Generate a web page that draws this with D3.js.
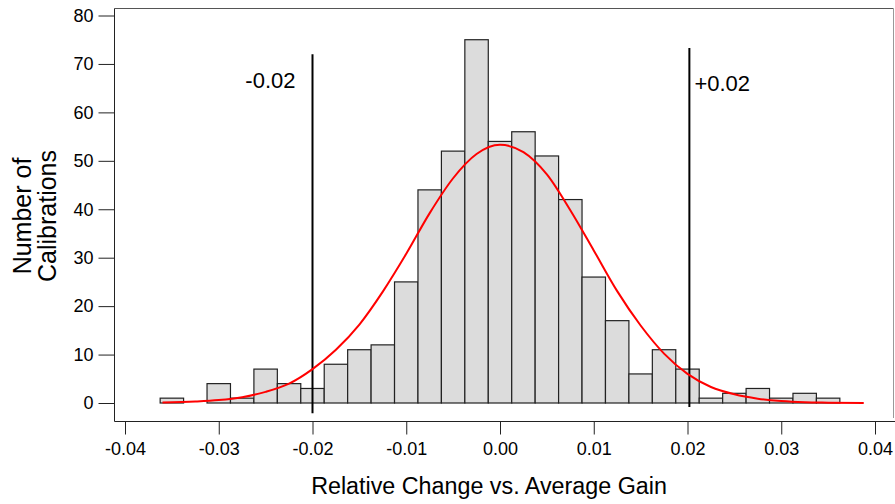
<!DOCTYPE html>
<html>
<head>
<meta charset="utf-8">
<script src="https://cdn.jsdelivr.net/npm/d3@7"></script>
<style>
  body { margin: 0; background: #fff; }
  svg { display: block; font-family: "Liberation Sans", Arial, sans-serif; }
</style>
</head>
<body>
<svg id="chart" width="895" height="504"></svg>
<script>
// histogram bins (centre of each bin) and counts
const binCenters = [-0.035, -0.0325, -0.03, -0.0275, -0.025, -0.0225, -0.02, -0.0175, -0.015, -0.0125,
    -0.01, -0.0075, -0.005, -0.0025, 0, 0.0025, 0.005, 0.0075, 0.01, 0.0125,
    0.015, 0.0175, 0.02, 0.0225, 0.025, 0.0275, 0.03, 0.0325, 0.035];
const counts = [1, 0, 4, 1, 7, 4, 3, 8, 11, 12,
    25, 44, 52, 75, 54, 56, 51, 42, 26, 17,
    6, 11, 7, 1, 2, 3, 1, 2, 1];
const binWidth = 0.0025;

// red fitted curve
const fitX = [-0.036, -0.0325, -0.03, -0.0275, -0.025, -0.0225, -0.02, -0.0175, -0.015, -0.0125,
    -0.01, -0.0075, -0.005, -0.0025, 0, 0.0025, 0.005, 0.0075, 0.01, 0.0125,
    0.015, 0.0175, 0.02, 0.0225, 0.025, 0.0275, 0.03, 0.0325, 0.035, 0.0388];
const fitY = [0.1, 0.3, 0.6, 1.2, 2.3, 4.0, 7.0, 11.0, 16.2, 23.0,
    30.8, 39.2, 46.4, 51.4, 53.3, 51.8, 47.2, 39.8, 31.5, 23.1,
    16.0, 10.2, 6.0, 3.3, 1.8, 0.9, 0.4, 0.15, 0.07, 0.0];

// threshold markers
const markerX = [-0.02, 0.0202];
const markerTop = [72, 73.3];
const markerBottom = [-2.1, -0.8];
const markerLabels = ["-0.02", "+0.02"];

const xTicks = [-0.04, -0.03, -0.02, -0.01, 0, 0.01, 0.02, 0.03, 0.04];
const yTicks = [0, 10, 20, 30, 40, 50, 60, 70, 80];

const svg = d3.select("#chart");

const x = d3.scaleLinear().domain([-0.04, 0.04]).range([125, 875]);
const y = d3.scaleLinear().domain([0, 80]).range([403, 15.5]);

const frameLeft = 114.5, frameTop = 8.5, frameRight = 893.5, axisY = 421.5;

// frame
svg.append("line")
    .attr("x1", frameLeft).attr("x2", frameRight)
    .attr("y1", frameTop).attr("y2", frameTop)
    .attr("stroke", "#555");
svg.append("line")
    .attr("x1", frameRight).attr("x2", frameRight)
    .attr("y1", frameTop).attr("y2", 418)
    .attr("stroke", "#999");

// bars
svg.append("g")
    .selectAll("rect")
    .data(binCenters.map((c, i) => ({ c: c, n: counts[i] })).filter(d => d.n > 0))
    .join("rect")
    .attr("x", d => x(d.c - binWidth / 2))
    .attr("width", d => x(d.c + binWidth / 2) - x(d.c - binWidth / 2))
    .attr("y", d => y(d.n))
    .attr("height", d => y(0) - y(d.n))
    .attr("fill", "#dcdcdc")
    .attr("stroke", "#222")
    .attr("stroke-width", 1.2);

// threshold lines
markerX.forEach((mx, i) => {
    svg.append("line")
        .attr("x1", x(mx)).attr("x2", x(mx))
        .attr("y1", y(markerTop[i])).attr("y2", y(markerBottom[i]))
        .attr("stroke", "#000")
        .attr("stroke-width", 2);
});

svg.append("text")
    .attr("x", x(markerX[0]) - 17)
    .attr("y", 88)
    .attr("text-anchor", "end")
    .attr("font-size", 22)
    .text(markerLabels[0]);

svg.append("text")
    .attr("x", x(markerX[1]) + 5)
    .attr("y", 91)
    .attr("text-anchor", "start")
    .attr("font-size", 22)
    .text(markerLabels[1]);

// fit curve
const line = d3.line()
    .x(d => x(d[0]))
    .y(d => y(d[1]))
    .curve(d3.curveMonotoneX);

svg.append("path")
    .datum(fitX.map((v, i) => [v, fitY[i]]))
    .attr("d", line)
    .attr("fill", "none")
    .attr("stroke", "#ff0000")
    .attr("stroke-width", 2);

// y axis
const yAxis = svg.append("g")
    .attr("transform", `translate(${frameLeft},0)`)
    .call(d3.axisLeft(y).tickValues(yTicks).tickFormat(d3.format("d")).tickSize(16).tickPadding(5));
yAxis.select(".domain").remove();
yAxis.selectAll("text").attr("font-size", 18).attr("fill", "#000").attr("font-family", null);
yAxis.selectAll("line").attr("stroke", "#222");

svg.append("line")
    .attr("x1", frameLeft).attr("x2", frameLeft)
    .attr("y1", frameTop).attr("y2", axisY)
    .attr("stroke", "#222");

// x axis
const xAxis = svg.append("g")
    .attr("transform", `translate(0,${axisY})`)
    .call(d3.axisBottom(x).tickValues(xTicks).tickFormat(d => d.toFixed(2)).tickSize(13).tickPadding(8));
xAxis.select(".domain").remove();
xAxis.selectAll("text").attr("font-size", 18).attr("fill", "#000").attr("font-family", null);
xAxis.selectAll("line").attr("stroke", "#222");

svg.append("line")
    .attr("x1", frameLeft).attr("x2", 895)
    .attr("y1", axisY).attr("y2", axisY)
    .attr("stroke", "#222");

// axis titles
svg.append("text")
    .attr("x", 489)
    .attr("y", 494)
    .attr("text-anchor", "middle")
    .attr("font-size", 23.3)
    .text("Relative Change vs. Average Gain");

const yTitle = svg.append("text")
    .attr("transform", "translate(0,216) rotate(-90)")
    .attr("text-anchor", "middle")
    .attr("font-size", 25);
yTitle.append("tspan").attr("x", 0).attr("y", 31).text("Number of");
yTitle.append("tspan").attr("x", 0).attr("y", 56).text("Calibrations");
</script>
</body>
</html>
